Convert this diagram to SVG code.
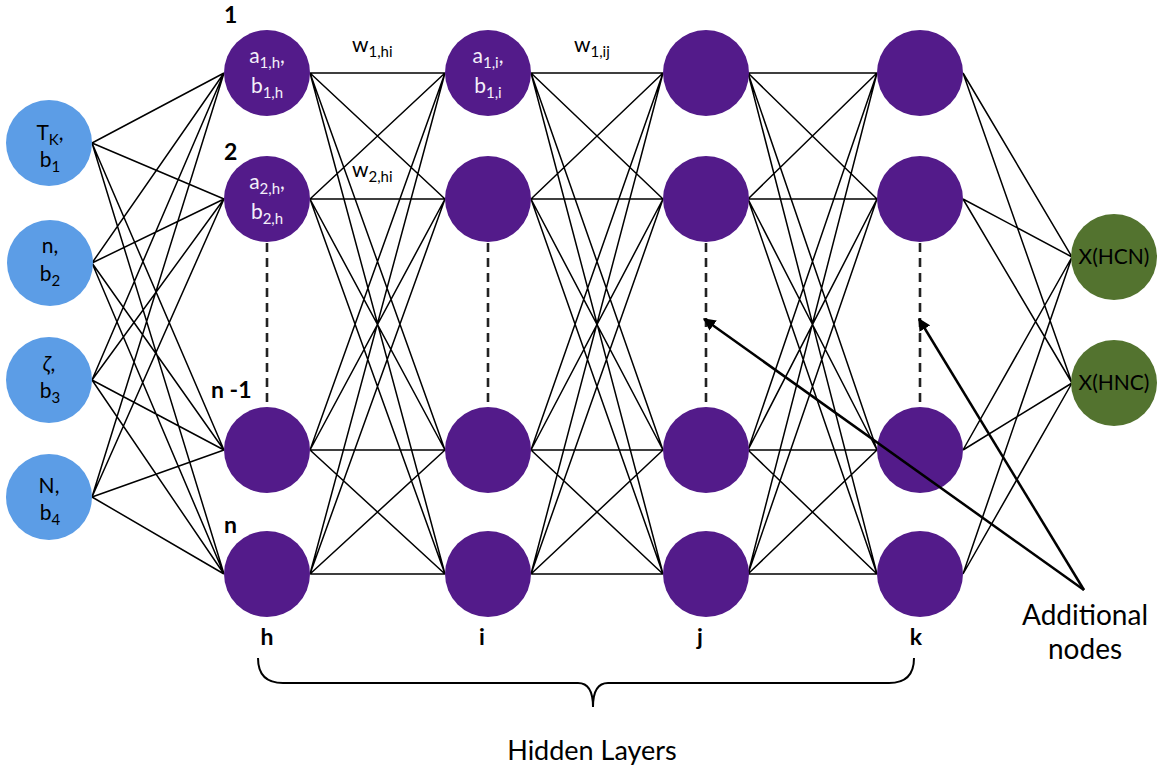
<svg xmlns="http://www.w3.org/2000/svg" width="1158" height="773" viewBox="0 0 1158 773">
  <style>
    .in { fill: #5c9de6; }
    .hid { fill: #531b8a; }
    .out { fill: #53732f; }
    .edge { stroke: #000; stroke-width: 1.5; fill: none; }
    .dash { stroke: #222; stroke-width: 2.6; stroke-dasharray: 9 6; fill: none; }
    .ptr { stroke: #000; stroke-width: 2.5; fill: none; marker-end: url(#head); }
    text { font-family: Lato, "Liberation Sans", sans-serif; }
    .lblW { fill: #f4f0fa; font-size: 21px; text-anchor: middle; }
    .lblB { fill: #000; font-size: 21px; text-anchor: middle; }
    .wt { fill: #000; font-size: 21px; }
    .idx { fill: #000; font-size: 23px; font-weight: bold; }
    .cap { fill: #000; font-size: 28px; text-anchor: middle; }
    .sub { font-size: 15px; }
  </style>
  <defs>
    <marker id="head" viewBox="0 0 10 10" refX="9" refY="5" markerWidth="5" markerHeight="5" orient="auto" markerUnits="strokeWidth">
      <path d="M0,0 L10,5 L0,10 z" fill="#000"/>
    </marker>
  </defs>

  <!-- connections between layers -->
  <g id="connectors">
    <!-- inputs -> layer h -->
    <path class="edge" d="M92,143 L224,73 M92,143 L224,199 M92,143 L224,450 M92,143 L224,574
                          M92,263 L224,73 M92,263 L224,199 M92,263 L224,450 M92,263 L224,574
                          M92,380 L224,73 M92,380 L224,199 M92,380 L224,450 M92,380 L224,574
                          M92,497 L224,73 M92,497 L224,199 M92,497 L224,450 M92,497 L224,574"/>
    <!-- layer h -> layer i -->
    <path class="edge" d="M310,73 L445,73 M310,73 L445,199 M310,73 L445,450 M310,73 L445,574
                          M310,199 L445,73 M310,199 L445,199 M310,199 L445,450 M310,199 L445,574
                          M310,450 L445,73 M310,450 L445,199 M310,450 L445,450 M310,450 L445,574
                          M310,574 L445,73 M310,574 L445,199 M310,574 L445,450 M310,574 L445,574"/>
    <!-- layer i -> layer j -->
    <path class="edge" d="M531,73 L663,73 M531,73 L663,199 M531,73 L663,450 M531,73 L663,574
                          M531,199 L663,73 M531,199 L663,199 M531,199 L663,450 M531,199 L663,574
                          M531,450 L663,73 M531,450 L663,199 M531,450 L663,450 M531,450 L663,574
                          M531,574 L663,73 M531,574 L663,199 M531,574 L663,450 M531,574 L663,574"/>
    <!-- layer j -> layer k -->
    <path class="edge" d="M748,73 L877,73 M748,73 L877,199 M748,73 L877,450 M748,73 L877,574
                          M748,199 L877,73 M748,199 L877,199 M748,199 L877,450 M748,199 L877,574
                          M748,450 L877,73 M748,450 L877,199 M748,450 L877,450 M748,450 L877,574
                          M748,574 L877,73 M748,574 L877,199 M748,574 L877,450 M748,574 L877,574"/>
    <!-- layer k -> outputs -->
    <path class="edge" d="M963,73 L1072,257 M963,73 L1072,383
                          M963,199 L1072,257 M963,199 L1072,383
                          M963,450 L1072,257 M963,450 L1072,383
                          M963,574 L1072,257 M963,574 L1072,383"/>
    <!-- elided nodes in each hidden layer -->
    <path class="dash" d="M267,243 L267,406 M488,243 L488,406 M706,243 L706,406 M920,243 L920,406"/>
  </g>

  <!-- input layer -->
  <g id="in-tk">
    <circle class="in" cx="49" cy="143" r="43"/>
    <text class="lblB" x="50" y="140">T<tspan class="sub" dy="5">K</tspan><tspan dy="-5">,</tspan></text>
    <text class="lblB" x="50" y="167">b<tspan class="sub" dy="5">1</tspan></text>
  </g>
  <g id="in-n">
    <circle class="in" cx="50" cy="263" r="43"/>
    <text class="lblB" x="50" y="253">n,</text>
    <text class="lblB" x="50" y="281">b<tspan class="sub" dy="5">2</tspan></text>
  </g>
  <g id="in-zeta">
    <circle class="in" cx="49" cy="380" r="43"/>
    <text class="lblB" x="49" y="371" font-style="italic">ζ<tspan font-style="normal">,</tspan></text>
    <text class="lblB" x="50" y="398">b<tspan class="sub" dy="5">3</tspan></text>
  </g>
  <g id="in-N">
    <circle class="in" cx="49" cy="497" r="43"/>
    <text class="lblB" x="49" y="493">N,</text>
    <text class="lblB" x="50" y="520">b<tspan class="sub" dy="5">4</tspan></text>
  </g>

  <!-- hidden layer h -->
  <g id="h1">
    <circle class="hid" cx="267" cy="73" r="43"/>
    <text class="lblW" x="267" y="63">a<tspan class="sub" dy="5">1,h</tspan><tspan dy="-5">,</tspan></text>
    <text class="lblW" x="267" y="93">b<tspan class="sub" dy="5">1,h</tspan></text>
  </g>
  <g id="h2">
    <circle class="hid" cx="267" cy="199" r="43"/>
    <text class="lblW" x="267" y="189">a<tspan class="sub" dy="5">2,h</tspan><tspan dy="-5">,</tspan></text>
    <text class="lblW" x="267" y="219">b<tspan class="sub" dy="5">2,h</tspan></text>
  </g>
  <g id="h3"><circle class="hid" cx="267" cy="450" r="43"/></g>
  <g id="h4"><circle class="hid" cx="267" cy="574" r="43"/></g>

  <!-- hidden layer i -->
  <g id="i1">
    <circle class="hid" cx="488" cy="73" r="43"/>
    <text class="lblW" x="488" y="63">a<tspan class="sub" dy="5">1,i</tspan><tspan dy="-5">,</tspan></text>
    <text class="lblW" x="488" y="93">b<tspan class="sub" dy="5">1,i</tspan></text>
  </g>
  <g id="i2"><circle class="hid" cx="488" cy="199" r="43"/></g>
  <g id="i3"><circle class="hid" cx="488" cy="450" r="43"/></g>
  <g id="i4"><circle class="hid" cx="488" cy="574" r="43"/></g>

  <!-- hidden layer j -->
  <g id="j1"><circle class="hid" cx="706" cy="73" r="43"/></g>
  <g id="j2"><circle class="hid" cx="706" cy="199" r="43"/></g>
  <g id="j3"><circle class="hid" cx="706" cy="450" r="43"/></g>
  <g id="j4"><circle class="hid" cx="706" cy="574" r="43"/></g>

  <!-- hidden layer k -->
  <g id="k1"><circle class="hid" cx="920" cy="73" r="43"/></g>
  <g id="k2"><circle class="hid" cx="920" cy="199" r="43"/></g>
  <g id="k3"><circle class="hid" cx="920" cy="450" r="43"/></g>
  <g id="k4"><circle class="hid" cx="920" cy="574" r="43"/></g>

  <!-- output layer -->
  <g id="out-hcn">
    <circle class="out" cx="1114" cy="257" r="43"/>
    <text class="lblB" x="1114" y="264">X(HCN)</text>
  </g>
  <g id="out-hnc">
    <circle class="out" cx="1114" cy="383" r="43"/>
    <text class="lblB" x="1114" y="390">X(HNC)</text>
  </g>

  <!-- pointers to the additional nodes, drawn over the nodes -->
  <g id="pointers">
    <path class="ptr" d="M1084,590 L704,319"/>
    <path class="ptr" d="M1084,590 L919,319"/>
  </g>

  <!-- weight labels -->
  <g id="weights">
    <text class="wt" x="352" y="52">w<tspan class="sub" dy="5">1,hi</tspan></text>
    <text class="wt" x="352" y="177">w<tspan class="sub" dy="5">2,hi</tspan></text>
    <text class="wt" x="574" y="52">w<tspan class="sub" dy="5">1,ij</tspan></text>
  </g>

  <!-- row indices -->
  <g id="rows">
    <text class="idx" x="224" y="23">1</text>
    <text class="idx" x="224" y="160">2</text>
    <text class="idx" x="211" y="398">n -1</text>
    <text class="idx" x="224" y="533">n</text>
  </g>

  <!-- layer names -->
  <g id="layers">
    <text class="idx" x="267" y="645" text-anchor="middle">h</text>
    <text class="idx" x="482" y="645" text-anchor="middle">i</text>
    <text class="idx" x="700" y="645" text-anchor="middle">j</text>
    <text class="idx" x="916" y="645" text-anchor="middle">k</text>
  </g>

  <!-- brace under the hidden layers -->
  <g id="brace">
    <path d="M258,658 Q258,683 283,683 L578,683 Q593,683 593,707 Q593,683 608,683 L889,683 Q914,683 914,658" stroke="#000" stroke-width="2" fill="none"/>
    <text class="cap" x="592" y="760" style="font-size:27px">Hidden Layers</text>
  </g>

  <g id="note">
    <text class="cap" x="1085" y="625">Additional</text>
    <text class="cap" x="1085" y="659">nodes</text>
  </g>
</svg>
